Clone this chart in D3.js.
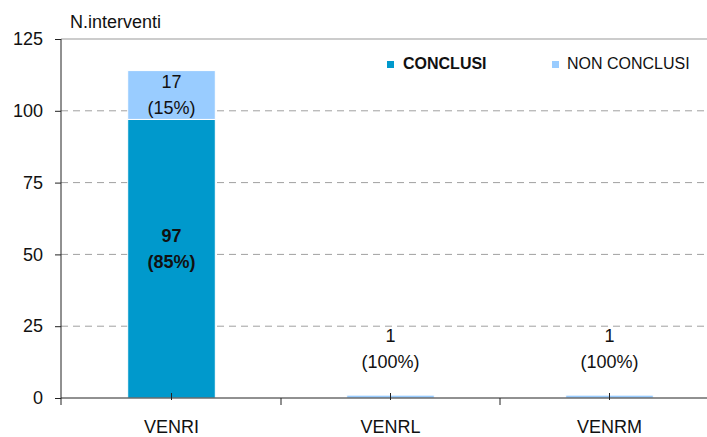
<!DOCTYPE html>
<html>
<head>
<meta charset="utf-8">
<script src="https://cdn.jsdelivr.net/npm/d3@7"></script>
<style>
  body { margin: 0; background: #fff; }
  svg { display: block; font-family: "Liberation Sans", Arial, sans-serif; }
</style>
</head>
<body>
<div id="chart"></div>
<script>
// chart data
const categories = ["VENRI", "VENRL", "VENRM"];
const conclusi = [97, 0, 0];
const nonConclusi = [17, 1, 1];
const yTicks = [0, 25, 50, 75, 100, 125];
const seriesNames = ["CONCLUSI", "NON CONCLUSI"];

const W = 707, H = 437;
const plot = { left: 61, right: 719, top: 39, bottom: 398 };
const colors = ["#0099cc", "#99ccff"];

const svg = d3.select("#chart").append("svg")
    .attr("width", W)
    .attr("height", H);

const x = d3.scaleBand()
    .domain(categories)
    .range([plot.left + 1, plot.right])
    .paddingInner(0.6)
    .paddingOuter(0.3);

const y = d3.scaleLinear()
    .domain([0, 125])
    .range([plot.bottom, plot.top]);

// gridlines
svg.append("g").selectAll("line")
    .data(yTicks.filter(d => d > 0 && d < 125))
    .enter().append("line")
    .attr("x1", plot.left).attr("x2", W)
    .attr("y1", d => y(d)).attr("y2", d => y(d))
    .attr("stroke", "#a0a0a0")
    .attr("stroke-dasharray", "7,5");

// top border of the plot
svg.append("line")
    .attr("x1", plot.left).attr("x2", W)
    .attr("y1", y(125)).attr("y2", y(125))
    .attr("stroke", "#999");

// stacked bars
const rows = categories.map((c, i) => ({ cat: c, CONCLUSI: conclusi[i], "NON CONCLUSI": nonConclusi[i] }));
const stacked = d3.stack().keys(seriesNames)(rows);

const layers = svg.append("g").selectAll("g")
    .data(stacked)
    .enter().append("g")
    .attr("fill", (d, i) => colors[i]);

layers.selectAll("rect")
    .data(d => d.filter(s => s[1] - s[0] > 0))
    .enter().append("rect")
    .attr("x", d => x(d.data.cat))
    .attr("width", x.bandwidth())
    .attr("y", d => y(d[1]))
    .attr("height", d => y(d[0]) - y(d[1]))
    .attr("stroke", "#fff")
    .attr("stroke-width", 1);

// value labels
const labels = svg.append("g").attr("font-size", 18).attr("text-anchor", "middle");
stacked.forEach((layer, si) => {
  layer.forEach(s => {
    const v = s[1] - s[0];
    if (v <= 0) return;
    const total = s.data.CONCLUSI + s.data["NON CONCLUSI"];
    const pct = Math.round(v / total * 100);
    const cx = x(s.data.cat) + x.bandwidth() / 2;
    const h = y(s[0]) - y(s[1]);
    let y1, y2;
    if (h > 30) {
      const mid = (y(s[0]) + y(s[1])) / 2;
      const off = si === 0 ? -17 : -7;
      y1 = mid + off;
      y2 = y1 + 26;
    } else {
      y1 = y(s[1]) - 53;
      y2 = y(s[1]) - 27;
    }
    const g = labels.append("g")
        .attr("font-weight", si === 0 ? "bold" : "normal")
        .attr("fill", "#111");
    g.append("text").attr("x", cx).attr("y", y1).text(v);
    g.append("text").attr("x", cx).attr("y", y2).text("(" + pct + "%)");
  });
});

// y axis
const yAxis = svg.append("g")
    .attr("transform", `translate(${plot.left},0)`)
    .call(d3.axisLeft(y).tickValues(yTicks).tickSize(6).tickPadding(12));
yAxis.select(".domain").attr("d", `M0,${plot.top}V${plot.bottom + 7}`).attr("stroke", "#222");
yAxis.selectAll(".tick line").attr("stroke", "#222");
yAxis.selectAll(".tick text")
    .attr("font-size", 18)
    .attr("font-family", "Liberation Sans, Arial, sans-serif")
    .attr("fill", "#111");

// x axis
const xAxis = svg.append("g")
    .attr("transform", `translate(0,${plot.bottom})`)
    .call(d3.axisBottom(x).tickSizeInner(-5).tickSizeOuter(0).tickPadding(22));
xAxis.select(".domain").attr("d", `M${plot.left},0H${W}`).attr("stroke", "#222");
xAxis.selectAll(".tick line").attr("y2", -5).attr("y1", 2).attr("stroke", "#222");
xAxis.selectAll(".tick text")
    .attr("font-size", 18)
    .attr("font-family", "Liberation Sans, Arial, sans-serif")
    .attr("fill", "#111");

// separator ticks between categories
const bounds = categories.slice(1).map(c => x(c) - x.step() * x.paddingInner() / 2);
xAxis.append("g").selectAll("line")
    .data(bounds)
    .enter().append("line")
    .attr("x1", d => d).attr("x2", d => d)
    .attr("y1", 0).attr("y2", 7)
    .attr("stroke", "#222");

// axis title
svg.append("text")
    .attr("x", 70)
    .attr("y", 28)
    .attr("font-size", 18)
    .attr("fill", "#111")
    .text("N.interventi");

// legend
const legendX = [387, 552];
const legend = svg.append("g").selectAll("g")
    .data(seriesNames)
    .enter().append("g")
    .attr("transform", (d, i) => `translate(${legendX[i]},61)`);
legend.append("rect")
    .attr("width", 7).attr("height", 7)
    .attr("fill", (d, i) => colors[i]);
legend.append("text")
    .attr("x", (d, i) => i === 0 ? 16 : 15)
    .attr("y", 8)
    .attr("font-size", 16)
    .attr("font-weight", (d, i) => i === 0 ? "bold" : "normal")
    .attr("fill", "#111")
    .text(d => d);
</script>
</body>
</html>
